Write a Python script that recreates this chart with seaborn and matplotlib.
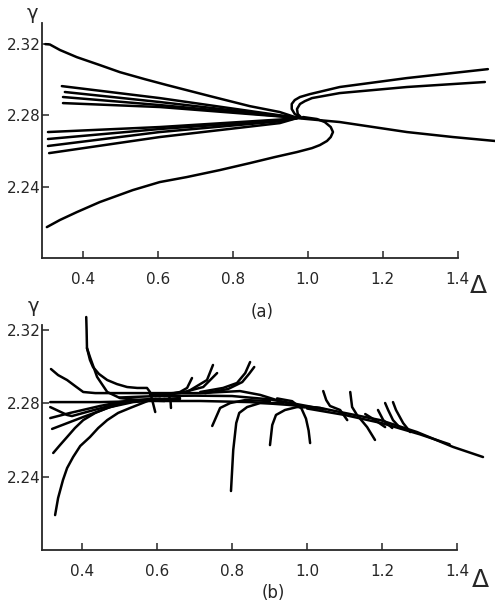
import matplotlib

matplotlib.use("Agg")
import matplotlib.pyplot as plt
import pandas as pd
import seaborn as sns

sns.set_style("ticks")
plt.rcParams["font.family"] = ["DejaVu Sans"]

x_ticks = [0.4, 0.6, 0.8, 1.0, 1.2, 1.4]
x_ticklabels = ["0.4", "0.6", "0.8", "1.0", "1.2", "1.4"]
y_ticks = [2.24, 2.28, 2.32]
y_ticklabels = ["2.24", "2.28", "2.32"]

# ---- panel (a): curves (delta, gamma) ----
a_top = ([0.300, 0.312, 0.339, 0.384, 0.445, 0.499, 0.565, 0.624, 0.739, 0.845, 0.925, 0.971],
         [2.3197, 2.3195, 2.3164, 2.3124, 2.3080, 2.3040, 2.3001, 2.2968, 2.2906, 2.2850, 2.2817, 2.2785])
a_up1 = ([0.344, 0.605, 0.971], [2.2962, 2.2895, 2.2785])
a_up2 = ([0.352, 0.605, 0.971], [2.2929, 2.2873, 2.2785])
a_up3 = ([0.347, 0.605, 0.971], [2.2901, 2.2856, 2.2785])
a_up4 = ([0.347, 0.605, 0.971], [2.2867, 2.2845, 2.2785])
a_lo1 = ([0.307, 0.605, 0.925, 0.971], [2.2705, 2.2733, 2.2775, 2.2783])
a_lo2 = ([0.307, 0.605, 0.925, 0.971], [2.2666, 2.2722, 2.2770, 2.2783])
a_lo3 = ([0.307, 0.605, 0.925, 0.971], [2.2627, 2.2705, 2.2765, 2.2783])
a_lo4 = ([0.310, 0.605, 0.925, 0.971], [2.2587, 2.2677, 2.2755, 2.2783])
a_fold_out = ([0.979, 0.965, 0.957, 0.957, 0.965, 0.979, 1.005, 1.085, 1.264, 1.480],
              [2.2789, 2.2806, 2.2834, 2.2862, 2.2884, 2.2901, 2.2917, 2.2957, 2.3007, 2.3057])
a_fold_in = ([0.984, 0.973, 0.971, 0.979, 0.992, 1.011, 1.085, 1.264, 1.472],
             [2.2783, 2.2806, 2.2834, 2.2862, 2.2878, 2.2895, 2.2923, 2.2957, 2.2985])
a_right = ([0.971, 1.085, 1.264, 1.387, 1.499],
           [2.2783, 2.2761, 2.2705, 2.2677, 2.2655])
a_bottom = ([0.304, 0.339, 0.384, 0.445, 0.533, 0.605, 0.677, 0.765, 0.845, 0.912, 0.971,
             1.011, 1.032, 1.051, 1.061, 1.067, 1.061, 1.045, 1.024, 0.987],
            [2.2173, 2.2213, 2.2257, 2.2313, 2.2380, 2.2425, 2.2453, 2.2492, 2.2531, 2.2565, 2.2593,
             2.2615, 2.2632, 2.2655, 2.2677, 2.2705, 2.2733, 2.2761, 2.2778, 2.2789])

# ---- panel (b) ----
b_arrow_a = ([0.411, 0.412, 0.413, 0.421, 0.429, 0.445, 0.467, 0.493, 0.520, 0.547, 0.573,
              0.581, 0.587, 0.595],
             [2.3268, 2.3197, 2.3099, 2.3034, 2.2996, 2.2958, 2.2925, 2.2903, 2.2887, 2.2882, 2.2882,
              2.2860, 2.2816, 2.2751])
b_arrow_b = ([0.413, 0.421, 0.440, 0.467, 0.501, 0.550, 0.620],
             [2.3099, 2.3050, 2.2942, 2.2860, 2.2827, 2.2816, 2.2811])
b_flat = ([0.315, 0.448, 0.581, 0.715, 0.848, 0.955, 1.035, 1.088, 1.195, 1.293, 1.389, 1.469],
          [2.2805, 2.2805, 2.2811, 2.2811, 2.2805, 2.2789, 2.2773, 2.2751, 2.2707, 2.2642, 2.2561, 2.2506])
b_upper = ([0.317, 0.336, 0.360, 0.381, 0.403, 0.435, 0.467, 0.581, 0.715, 0.821, 0.875,
            0.936, 0.981, 1.035],
           [2.2985, 2.2952, 2.2925, 2.2893, 2.2860, 2.2854, 2.2854, 2.2854, 2.2854, 2.2865, 2.2844,
            2.2805, 2.2784, 2.2770])
b_mid = ([0.500, 0.600, 0.700, 0.800, 0.900, 0.970, 1.050],
         [2.2830, 2.2838, 2.2840, 2.2838, 2.2820, 2.2795, 2.2765])
b_tail = ([1.000, 1.100, 1.200, 1.300, 1.380],
          [2.2770, 2.2735, 2.2690, 2.2630, 2.2575])
b_c1 = ([0.315, 0.360, 0.373, 0.421, 0.501, 0.581, 0.661],
        [2.2778, 2.2735, 2.2729, 2.2756, 2.2800, 2.2822, 2.2822])
b_c2 = ([0.315, 0.368, 0.448, 0.528, 0.608], [2.2718, 2.2746, 2.2784, 2.2816, 2.2822])
b_c3 = ([0.320, 0.403, 0.475, 0.536, 0.621], [2.2659, 2.2724, 2.2778, 2.2805, 2.2822])
b_c4 = ([0.323, 0.341, 0.360, 0.381, 0.403, 0.435, 0.467, 0.520, 0.608],
        [2.2528, 2.2571, 2.2615, 2.2664, 2.2707, 2.2746, 2.2773, 2.2805, 2.2822])
b_c5 = ([0.328, 0.336, 0.349, 0.360, 0.376, 0.395, 0.421, 0.443, 0.467, 0.496, 0.528, 0.581, 0.661],
        [2.2190, 2.2283, 2.2381, 2.2446, 2.2506, 2.2566, 2.2615, 2.2664, 2.2707, 2.2746, 2.2773,
         2.2816, 2.2827])
b_hook = ([0.632, 0.636, 0.637], [2.2838, 2.2805, 2.2773])
b_f1 = ([0.608, 0.661, 0.680, 0.693], [2.2838, 2.2860, 2.2882, 2.2936])
b_f2 = ([0.581, 0.680, 0.733, 0.749], [2.2844, 2.2860, 2.2925, 2.3007])
b_f3 = ([0.595, 0.661, 0.723, 0.760], [2.2838, 2.2854, 2.2887, 2.2963])
b_f4 = ([0.715, 0.776, 0.813, 0.835, 0.848], [2.2860, 2.2882, 2.2909, 2.2963, 2.3023])
b_f5 = ([0.728, 0.789, 0.827, 0.845, 0.859], [2.2854, 2.2876, 2.2914, 2.2958, 2.2996])
b_d1 = ([0.747, 0.768, 0.795, 0.835, 0.901], [2.2675, 2.2773, 2.2800, 2.2816, 2.2811])
b_d2 = ([0.797, 0.803, 0.811, 0.819, 0.840, 0.875, 0.936],
        [2.2321, 2.2544, 2.2691, 2.2746, 2.2778, 2.2800, 2.2800])
b_d3 = ([0.901, 0.907, 0.917, 0.941, 0.973, 1.035],
        [2.2571, 2.2680, 2.2735, 2.2762, 2.2778, 2.2773])
b_e1 = ([0.920, 0.960, 0.985, 0.997, 1.004, 1.008],
        [2.2825, 2.2810, 2.2770, 2.2715, 2.2650, 2.2582])
b_g1 = ([1.043, 1.051, 1.061, 1.088, 1.107], [2.2865, 2.2816, 2.2784, 2.2762, 2.2707])
b_g2 = ([1.115, 1.120, 1.133, 1.160, 1.181], [2.2860, 2.2778, 2.2735, 2.2669, 2.2599])
b_h1 = ([1.208, 1.216, 1.229, 1.248], [2.2800, 2.2762, 2.2707, 2.2664])
b_h2 = ([1.229, 1.237, 1.256, 1.275], [2.2805, 2.2762, 2.2691, 2.2642])
b_h3 = ([1.189, 1.203, 1.227], [2.2762, 2.2707, 2.2664])
b_h4 = ([1.155, 1.181, 1.208], [2.2740, 2.2707, 2.2669])

curves_a = [a_top, a_up1, a_up2, a_up3, a_up4, a_lo1, a_lo2, a_lo3, a_lo4,
            a_fold_out, a_fold_in, a_right, a_bottom]
curves_b = [b_arrow_a, b_arrow_b, b_flat, b_upper, b_mid, b_tail, b_c1, b_c2,
            b_c3, b_c4, b_c5, b_hook, b_f1, b_f2, b_f3, b_f4, b_f5, b_d1, b_d2,
            b_d3, b_e1, b_g1, b_g2, b_h1, b_h2, b_h3, b_h4]


def to_frame(curves):
    rows = []
    for i, (xs, ys) in enumerate(curves):
        for j, (x, y) in enumerate(zip(xs, ys)):
            rows.append({"curve": i, "order": j, "delta": x, "gamma": y})
    return pd.DataFrame(rows)


def draw_panel(ax, df, xlim, ylim, ytop):
    sns.lineplot(data=df, x="delta", y="gamma", units="curve", estimator=None,
                 sort=False, color="black", lw=1.8, ax=ax, legend=False)
    ax.set_xlim(*xlim)
    ax.set_ylim(*ylim)
    ax.set_xlabel("")
    ax.set_ylabel("")
    for s in ["top", "right"]:
        ax.spines[s].set_visible(False)
    ax.spines["left"].set_bounds(ylim[0], ytop)
    ax.spines["bottom"].set_bounds(xlim[0], 1.4)
    for s in ["left", "bottom"]:
        ax.spines[s].set_linewidth(1.3)
    ax.set_xticks(x_ticks, x_ticklabels)
    ax.set_yticks(y_ticks, y_ticklabels)
    ax.tick_params(axis="x", direction="in", length=5, width=1.1, pad=10, labelsize=11)
    ax.tick_params(axis="y", direction="in", length=5, width=1.1, pad=1, labelsize=11)
    ax.patch.set_alpha(0)


fig = plt.figure(figsize=(4.95, 6.03), dpi=100)
ax_a = fig.add_axes([0.0848, 0.5721, 0.9152, 0.3897])
ax_b = fig.add_axes([0.0848, 0.0879, 0.9152, 0.3897])

draw_panel(ax_a, to_frame(curves_a), (0.291, 1.499), (2.20, 2.3315), 2.3315)
draw_panel(ax_b, to_frame(curves_b), (0.293, 1.501), (2.20, 2.3279), 2.3224)

fig.text(0.066, 0.978, "γ", fontsize=14, ha="center", va="center")
fig.text(0.068, 0.492, "γ", fontsize=14, ha="center", va="center")
fig.text(0.966, 0.526, "Δ", fontsize=18, ha="center", va="center")
fig.text(0.970, 0.038, "Δ", fontsize=18, ha="center", va="center")
fig.text(0.529, 0.483, "(a)", fontsize=12, ha="center", va="center")
fig.text(0.553, 0.017, "(b)", fontsize=12, ha="center", va="center")

fig.savefig("out.png", dpi=100)
